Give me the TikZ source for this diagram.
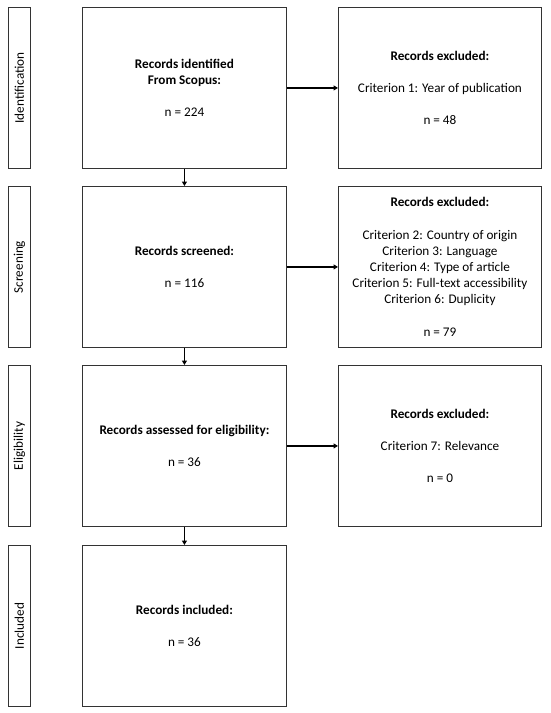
\documentclass[tikz,border=0pt]{standalone}
\usepackage{fontspec}
\setmainfont{Carlito}
\usetikzlibrary{arrows.meta}
\begin{document}
\begin{tikzpicture}[x=1pt,y=-1pt,
  box/.style={draw=black!80, line width=0.9pt, anchor=north west, align=center, inner sep=0pt,
    font=\fontsize{13.2}{16.2}\selectfont},
  midbox/.style={box, minimum width=204pt, minimum height=161pt},
  exbox/.style={box, minimum width=203pt, minimum height=161pt},
  stagebox/.style={draw=black!80, line width=0.9pt, anchor=north west, minimum width=22pt, minimum height=161pt, inner sep=0pt},
  stagetext/.style={rotate=90, font=\fontsize{13.2}{15}\selectfont},
  flow/.style={line width=1.6pt, -{Triangle[length=4.5pt,width=5pt]}}]
\useasboundingbox (0,0) rectangle (550,713);
% stage labels
\node[stagebox] (s1) at (8,7) {};
\node[stagebox] (s2) at (8,186) {};
\node[stagebox] (s3) at (8,365) {};
\node[stagebox] (s4) at (8,545) {};
\node[stagetext] (t1) at (s1.center) {Identification};
\node[stagetext] (t2) at (s2.center) {Screening};
\node[stagetext] (t3) at (s3.center) {Eligibility};
\node[stagetext] (t4) at (s4.center) {Included};
% middle column
\node[midbox] (m1) at (82,7) {\textbf{Records identified}\\\textbf{From Scopus:}\\[16.2pt]n = 224};
\node[midbox] (m2) at (82,186) {\textbf{Records screened:}\\[16.2pt]n = 116};
\node[midbox] (m3) at (82,365) {\textbf{Records assessed for eligibility:}\\[16.2pt]n = 36};
\node[midbox] (m4) at (82,545) {\textbf{Records included:}\\[16.2pt]n = 36};
% right column
\node[exbox] (e1) at (338,7) {\textbf{Records excluded:}\\[16.2pt]Criterion 1: Year of publication\\[16.2pt]n = 48};
\node[exbox] (e2) at (338,186) {\textbf{Records excluded:}\\[16.2pt]Criterion 2: Country of origin\\Criterion 3: Language\\Criterion 4: Type of article\\Criterion 5: Full-text accessibility\\Criterion 6: Duplicity\\[16.2pt]n = 79};
\node[exbox] (e3) at (338,365) {\textbf{Records excluded:}\\[16.2pt]Criterion 7: Relevance\\[16.2pt]n = 0};
% connectors
\draw[flow] (m1) -- (e1);
\draw[flow] (m2) -- (e2);
\draw[flow] (m3) -- (e3);
\draw[flow] (m1) -- (m2);
\draw[flow] (m2) -- (m3);
\draw[flow] (m3) -- (m4);
\end{tikzpicture}
\end{document}
